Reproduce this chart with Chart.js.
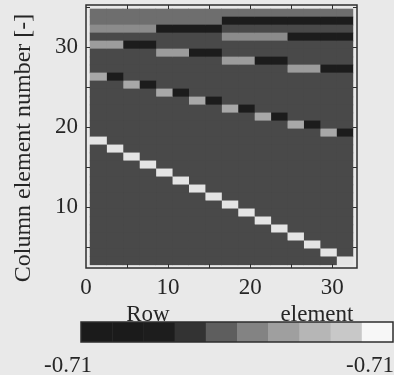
<!DOCTYPE html>
<html>
<head>
<meta charset="utf-8">
<script src="https://cdn.jsdelivr.net/npm/chart.js@4.4.0/dist/chart.umd.min.js"></script>
<style>
  html, body { margin: 0; padding: 0; background: #e9e9e9; }
  #wrap { width: 394px; height: 375px; }
</style>
</head>
<body>
<div id="wrap"><canvas id="matrixChart" width="394" height="375"></canvas></div>
<script>
// column element number of each matrix row, top to bottom
const rowElements = [32, 31, 30, 29, 28, 27, 26, 25, 24, 23, 22, 21, 20, 19, 18, 17,
                     16, 15, 14, 13, 12, 11, 10, 9, 8, 7, 6, 5, 4, 3, 2, 1];
// first row element of each displayed column (every column covers two elements)
const columnElements = [1, 3, 5, 7, 9, 11, 13, 15, 17, 19, 21, 23, 25, 27, 29, 31];
// matrix values, one line per row (top row first)
const cellValues = [
  [0.18, 0.18, 0.18, 0.18, 0.18, 0.18, 0.18, 0.18, 0.18, 0.18, 0.18, 0.18, 0.18, 0.18, 0.18, 0.18],
  [0.18, 0.18, 0.18, 0.18, 0.18, 0.18, 0.18, 0.18, -0.18, -0.18, -0.18, -0.18, -0.18, -0.18, -0.18, -0.18],
  [0.25, 0.25, 0.25, 0.25, -0.25, -0.25, -0.25, -0.25, 0, 0, 0, 0, 0, 0, 0, 0],
  [0, 0, 0, 0, 0, 0, 0, 0, 0.25, 0.25, 0.25, 0.25, -0.25, -0.25, -0.25, -0.25],
  [0.35, 0.35, -0.35, -0.35, 0, 0, 0, 0, 0, 0, 0, 0, 0, 0, 0, 0],
  [0, 0, 0, 0, 0.35, 0.35, -0.35, -0.35, 0, 0, 0, 0, 0, 0, 0, 0],
  [0, 0, 0, 0, 0, 0, 0, 0, 0.35, 0.35, -0.35, -0.35, 0, 0, 0, 0],
  [0, 0, 0, 0, 0, 0, 0, 0, 0, 0, 0, 0, 0.35, 0.35, -0.35, -0.35],
  [0.5, -0.5, 0, 0, 0, 0, 0, 0, 0, 0, 0, 0, 0, 0, 0, 0],
  [0, 0, 0.5, -0.5, 0, 0, 0, 0, 0, 0, 0, 0, 0, 0, 0, 0],
  [0, 0, 0, 0, 0.5, -0.5, 0, 0, 0, 0, 0, 0, 0, 0, 0, 0],
  [0, 0, 0, 0, 0, 0, 0.5, -0.5, 0, 0, 0, 0, 0, 0, 0, 0],
  [0, 0, 0, 0, 0, 0, 0, 0, 0.5, -0.5, 0, 0, 0, 0, 0, 0],
  [0, 0, 0, 0, 0, 0, 0, 0, 0, 0, 0.5, -0.5, 0, 0, 0, 0],
  [0, 0, 0, 0, 0, 0, 0, 0, 0, 0, 0, 0, 0.5, -0.5, 0, 0],
  [0, 0, 0, 0, 0, 0, 0, 0, 0, 0, 0, 0, 0, 0, 0.5, -0.5],
  [0.71, 0, 0, 0, 0, 0, 0, 0, 0, 0, 0, 0, 0, 0, 0, 0],
  [0, 0.71, 0, 0, 0, 0, 0, 0, 0, 0, 0, 0, 0, 0, 0, 0],
  [0, 0, 0.71, 0, 0, 0, 0, 0, 0, 0, 0, 0, 0, 0, 0, 0],
  [0, 0, 0, 0.71, 0, 0, 0, 0, 0, 0, 0, 0, 0, 0, 0, 0],
  [0, 0, 0, 0, 0.71, 0, 0, 0, 0, 0, 0, 0, 0, 0, 0, 0],
  [0, 0, 0, 0, 0, 0.71, 0, 0, 0, 0, 0, 0, 0, 0, 0, 0],
  [0, 0, 0, 0, 0, 0, 0.71, 0, 0, 0, 0, 0, 0, 0, 0, 0],
  [0, 0, 0, 0, 0, 0, 0, 0.71, 0, 0, 0, 0, 0, 0, 0, 0],
  [0, 0, 0, 0, 0, 0, 0, 0, 0.71, 0, 0, 0, 0, 0, 0, 0],
  [0, 0, 0, 0, 0, 0, 0, 0, 0, 0.71, 0, 0, 0, 0, 0, 0],
  [0, 0, 0, 0, 0, 0, 0, 0, 0, 0, 0.71, 0, 0, 0, 0, 0],
  [0, 0, 0, 0, 0, 0, 0, 0, 0, 0, 0, 0.71, 0, 0, 0, 0],
  [0, 0, 0, 0, 0, 0, 0, 0, 0, 0, 0, 0, 0.71, 0, 0, 0],
  [0, 0, 0, 0, 0, 0, 0, 0, 0, 0, 0, 0, 0, 0.71, 0, 0],
  [0, 0, 0, 0, 0, 0, 0, 0, 0, 0, 0, 0, 0, 0, 0.71, 0],
  [0, 0, 0, 0, 0, 0, 0, 0, 0, 0, 0, 0, 0, 0, 0, 0.71]
];
const xTickLabels = [0, 10, 20, 30];
const yTickLabels = [10, 20, 30];
const xTickMarks = [0, 5, 10, 15, 20, 25, 30];
const yTickMarks = [5, 10, 15, 20, 25, 30, 35];
const colorbarLabels = ['-0.71', '-0.71'];
const colorbarShades = ['#1b1b1b', '#1b1b1b', '#1d1d1d', '#333333', '#5e5e5e',
                        '#838383', '#9f9f9f', '#b6b6b6', '#c8c8c8', '#f7f7f7'];

const inkColor = '#262626';
const serif = '"Liberation Serif", "DejaVu Serif", serif';

// grey level used for each value (photocopy look of the original)
function cellColor(v) {
    if (v < 0) return '#1c1c1c';
    if (v === 0) return '#494949';
    if (v < 0.2) return '#6e6e6e';
    if (v < 0.3) return '#8b8b8b';
    if (v < 0.4) return '#9c9c9c';
    if (v < 0.6) return '#a8a8a8';
    return '#e4e4e4';
}

const datasets = columnElements.map(function(el, j) {
    return {
        data: rowElements.map(r => ({ x: [el - 0.5, el + 1.5], y: r })),
        backgroundColor: cellValues.map(row => cellColor(row[j])),
        borderWidth: 0,
        grouped: false,
        barPercentage: 1,
        categoryPercentage: 1
    };
});

// page background, dark backdrop under the cells, frame, inward ticks, extra texts, colour bar
const decorPlugin = {
    id: 'decor',
    beforeDraw(chart) {
        const ctx = chart.ctx;
        ctx.save();
        ctx.fillStyle = '#e9e9e9';
        ctx.fillRect(0, 0, chart.width, chart.height);
        ctx.restore();
    },
    beforeDatasetsDraw(chart) {
        const ctx = chart.ctx;
        const xs = chart.scales.x, ys = chart.scales.y;
        const x0 = xs.getPixelForValue(columnElements[0] - 0.5);
        const x1 = xs.getPixelForValue(columnElements[columnElements.length - 1] + 1.5);
        const y0 = ys.getPixelForValue(Math.max(...rowElements) + 0.5);
        const y1 = ys.getPixelForValue(Math.min(...rowElements) - 0.5);
        ctx.save();
        ctx.fillStyle = cellColor(0);
        ctx.fillRect(x0, y0, x1 - x0, y1 - y0);
        ctx.restore();
    },
    afterDraw(chart) {
        const ctx = chart.ctx;
        const a = chart.chartArea;
        const xs = chart.scales.x, ys = chart.scales.yTicks;
        ctx.save();
        ctx.strokeStyle = '#2e2e2e';
        ctx.lineWidth = 1.5;
        ctx.strokeRect(a.left, a.top, a.right - a.left, a.bottom - a.top);

        // small inward tick marks every 5 units
        ctx.lineWidth = 1;
        ctx.beginPath();
        xs.ticks.forEach(function(t) {
            if (t.value <= xs.min || t.value >= xs.max) return;
            const px = Math.round(xs.getPixelForValue(t.value)) + 0.5;
            ctx.moveTo(px, a.top); ctx.lineTo(px, a.top + 4);
            ctx.moveTo(px, a.bottom); ctx.lineTo(px, a.bottom - 4);
        });
        ys.ticks.forEach(function(t) {
            if (t.value <= ys.min || t.value >= ys.max) return;
            const py = Math.round(ys.getPixelForValue(t.value)) + 0.5;
            ctx.moveTo(a.left, py); ctx.lineTo(a.left + 4, py);
            ctx.moveTo(a.right, py); ctx.lineTo(a.right - 4, py);
        });
        ctx.stroke();

        ctx.fillStyle = inkColor;
        // y axis title
        ctx.save();
        ctx.translate(30, 148);
        ctx.rotate(-Math.PI / 2);
        ctx.font = '24px ' + serif;
        ctx.textAlign = 'center';
        ctx.textBaseline = 'alphabetic';
        ctx.fillText('Column element number [-]', 0, 0);
        ctx.restore();

        // x axis title, split around the colour bar like in the original
        ctx.font = '23px ' + serif;
        ctx.textAlign = 'center';
        ctx.textBaseline = 'alphabetic';
        ctx.fillText('Row', 148, 321);
        ctx.fillText('element', 317, 321);

        // colour bar
        const cbLeft = 81, cbRight = 393, cbTop = 322, cbBottom = 342;
        const segW = (cbRight - cbLeft) / colorbarShades.length;
        colorbarShades.forEach(function(c, i) {
            ctx.fillStyle = c;
            ctx.fillRect(cbLeft + i * segW, cbTop, segW + 0.5, cbBottom - cbTop);
        });
        ctx.strokeStyle = '#2e2e2e';
        ctx.lineWidth = 1.5;
        ctx.strokeRect(cbLeft, cbTop, cbRight - cbLeft, cbBottom - cbTop);

        ctx.fillStyle = inkColor;
        ctx.fillText(colorbarLabels[0], 68, 372);
        ctx.fillText(colorbarLabels[1], 370, 372);
        ctx.restore();
    }
};

window.onload = function() {
    const ctx = document.getElementById('matrixChart').getContext('2d');
    new Chart(ctx, {
        type: 'bar',
        data: { datasets: datasets },
        options: {
            indexAxis: 'y',
            responsive: false,
            animation: false,
            layout: { padding: { top: 5, right: 37, left: 0, bottom: 0 } },
            plugins: {
                legend: { display: false },
                tooltip: { enabled: false }
            },
            scales: {
                x: {
                    type: 'linear',
                    min: 0,
                    max: 33,
                    offset: false,
                    grid: { display: false, drawTicks: false, offset: false },
                    border: { display: false },
                    afterBuildTicks: function(scale) {
                        scale.ticks = xTickMarks.map(v => ({ value: v }));
                    },
                    ticks: {
                        autoSkip: false,
                        maxRotation: 0,
                        padding: 6,
                        color: inkColor,
                        font: { family: serif, size: 23 },
                        callback: v => xTickLabels.includes(v) ? String(v) : ''
                    },
                    afterFit: function(scale) {
                        scale.height = 107;
                        scale.paddingLeft = 0;
                        scale.paddingRight = 0;
                    }
                },
                y: {
                    type: 'linear',
                    display: false,
                    min: 0.1,
                    max: 33,
                    offset: false,
                    grid: { offset: false }
                },
                yTicks: {
                    type: 'linear',
                    position: 'left',
                    min: 2.33,
                    max: 35.3,
                    offset: false,
                    grid: { display: false, drawTicks: false, offset: false },
                    border: { display: false },
                    afterBuildTicks: function(scale) {
                        scale.ticks = yTickMarks.map(v => ({ value: v }));
                    },
                    ticks: {
                        autoSkip: false,
                        padding: 8,
                        color: inkColor,
                        font: { family: serif, size: 23 },
                        callback: v => yTickLabels.includes(v) ? String(v) : ''
                    },
                    afterFit: function(scale) {
                        scale.width = 86;
                        scale.paddingTop = 0;
                        scale.paddingBottom = 0;
                    }
                }
            }
        },
        plugins: [decorPlugin]
    });
};
</script>
</body>
</html>
